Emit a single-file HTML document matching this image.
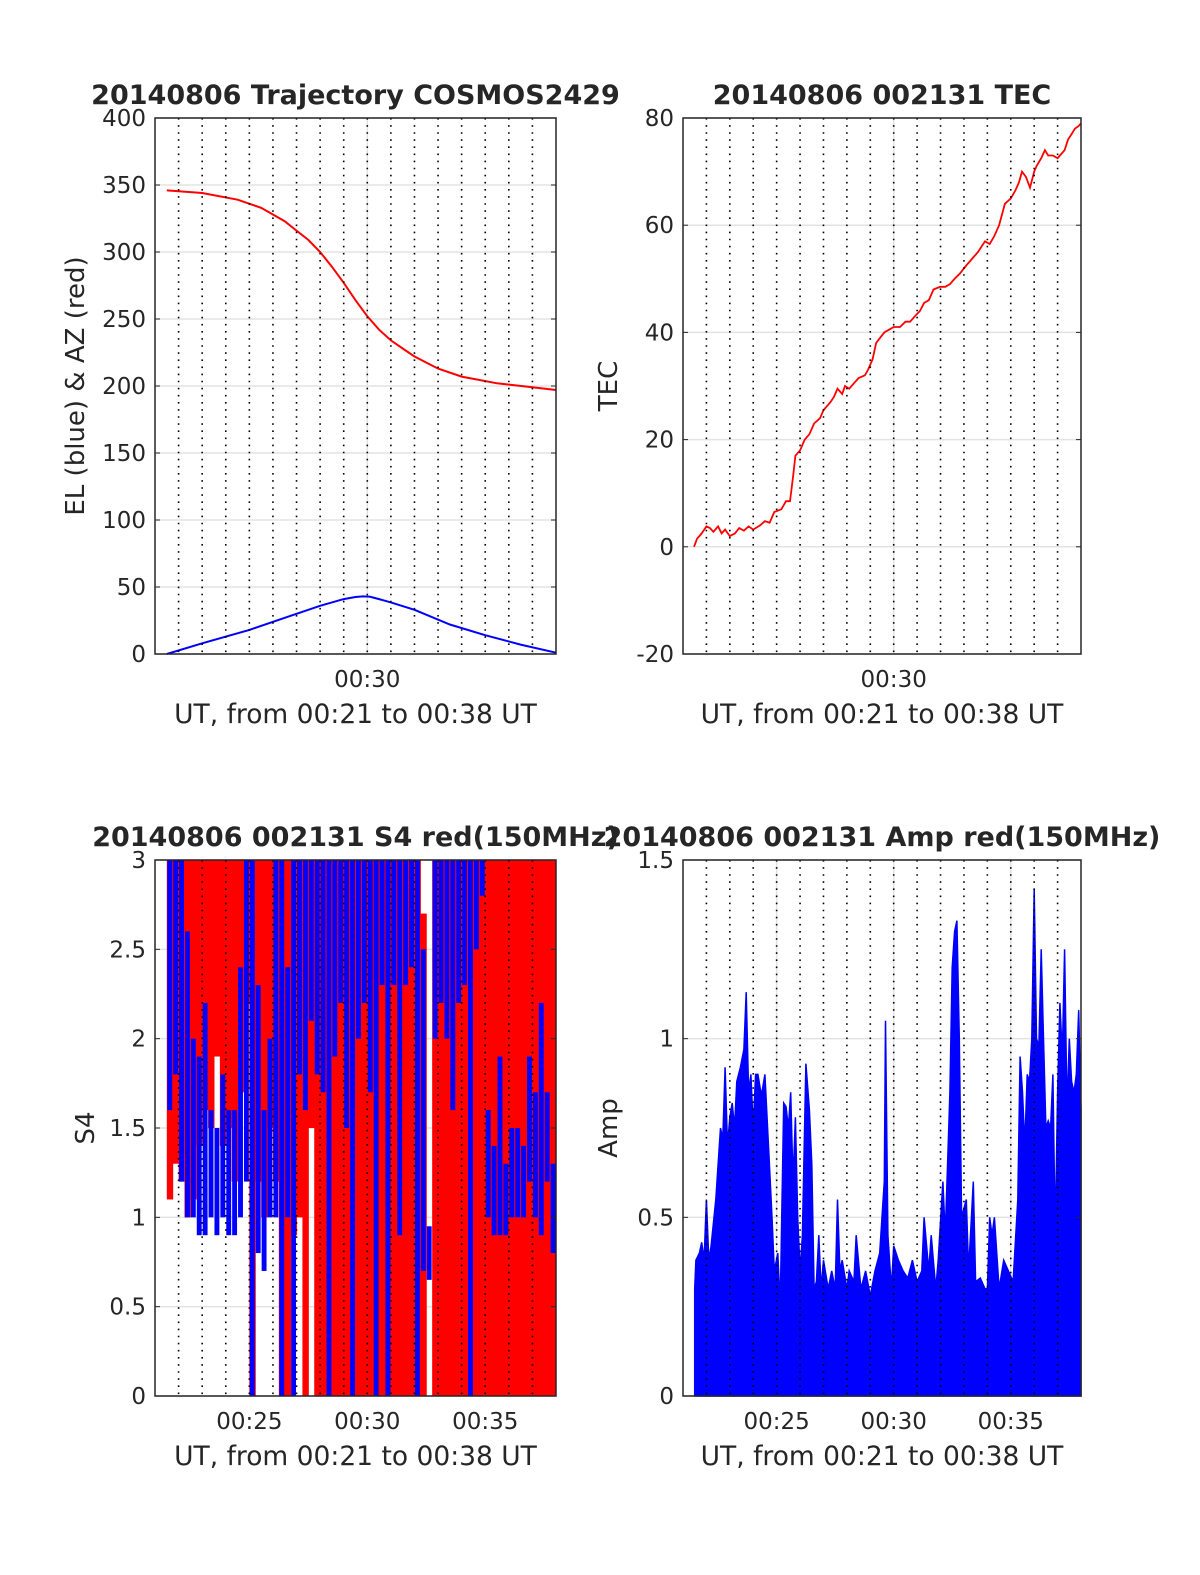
<!DOCTYPE html>
<html><head><meta charset="utf-8"><style>
html,body{margin:0;padding:0;background:#fff;overflow:hidden;width:1200px;height:1575px}
svg{display:block}
text{font-family:"DejaVu Sans","Liberation Sans",sans-serif;fill:#262626}
</style></head><body>
<svg id="fig" width="1200" height="1575" viewBox="0 0 1200 1575" xmlns="http://www.w3.org/2000/svg"></svg>
<script>
// ---- Trajectory ----
const elT=[21.5,23,25,27,28,29,29.5,29.8,30.1,30.5,31,32,33.5,35,36.5,38];
const elV=[0,8,18,30,36,41,42.5,43,42.8,41,38.5,33,22,14,7,1];
const azT=[21.5,23,24.5,25.5,26.5,27,27.5,28,28.5,29,29.5,30,30.5,31,31.5,32,33,34,35.5,37,38];
const azV=[346,344,339,333,323,316,309,300,289,277,264,252,242,234,228,222,213,207,202,199,197];
// ---- TEC ----
const tecT=[21.47,21.6,21.8,22.0,22.15,22.3,22.5,22.65,22.8,23.0,23.22,23.4,23.6,23.8,24.0,24.29,24.5,24.7,24.9,25.2,25.4,25.57,25.7,25.8,26.0,26.2,26.4,26.6,26.85,27.0,27.3,27.45,27.6,27.8,27.92,28.1,28.3,28.5,28.77,28.9,29.1,29.25,29.42,29.6,29.8,30.0,30.27,30.5,30.7,30.9,31.12,31.3,31.5,31.7,31.98,32.2,32.4,32.6,32.83,33.1,33.4,33.6,33.9,34.1,34.3,34.5,34.75,35.0,35.2,35.35,35.48,35.65,35.82,36.0,36.1,36.3,36.46,36.6,36.8,37.0,37.1,37.3,37.45,37.6,37.74,37.9,38];
const tecV=[0,1.5,2.5,3.8,3.5,2.8,3.8,2.5,3.2,2,2.5,3.5,3,3.8,3.2,4,4.8,4.5,6.5,7,8.5,8.5,13,17,18,20,21,23,24,25.5,27,28,29.5,28.5,30,29.5,30.5,31.5,32,33,35,38,39,40,40.5,41,41,42,42,43,44,45.5,46,48,48.5,48.5,49,50,51,52.5,54,55,57,56.5,58,60,64,65,66.5,68,70,69,67,70,71,72.5,74,73,73,72.5,73,74,76,77,78,78.5,79];
// ---- S4 (segments start at 21.5, step 0.25 min) ----
const s4Start=21.5, s4Step=0.25;
const redLo=[1.1,1.3,1.2,1.0,1.1,1.4,1.6,1.5,1.9,1.4,1.5,1.2,1.7,2.2,0,1.2,1.0,1.5,1.2,0,0,0.9,1.0,0,1.5,0,0,0,0,0,0,0,0,0,0,0,0,0,0,0,0,0,0,0,0,0,0,0,0,0,0,0,0,0,0,0,0,0,0,0,0,0,0,0,0,0];
const redHi=[3,3,3,3,3,3,3,3,3,3,3,3,3,3,3,3,3,3,3,3,3,3,3,3,3,3,3,3,3,3,3,3,3,3,3,3,3,3,3,3,3,3,3,2.7,0,3,3,3,3,3,3,3,3,3,3,3,3,3,3,3,3,3,3,3,3,3];
const blueLo=[1.6,1.8,1.2,1.0,1.0,0.9,0.9,1.0,0.9,1.0,0.9,0.9,1.0,1.2,0,0.8,0.7,1.0,1.0,0,1.0,0,1.8,1.6,2.1,1.8,1.7,0,1.9,2.2,1.5,0,2.0,2.2,1.7,0,2.3,0,2.3,0.9,2.3,2.4,0,0.7,0.65,2.0,2.2,2.0,1.6,2.2,2.3,0,2.5,2.8,1.0,0.9,0.9,0.9,1.0,1.0,1.0,1.2,1.0,0.9,1.2,0.8];
const blueHi=[3,3,3,2.6,2.0,1.9,2.2,1.6,1.5,1.8,1.6,1.6,2.4,3,3,2.3,1.6,2.0,3,3,2.4,3,3,3,3,3,3,3,3,3,3,3,3,3,3,3,3,3,3,3,3,3,3,2.5,0.95,3,3,3,3,3,3,3,3,3,1.6,1.4,1.9,1.3,1.5,1.5,1.4,1.9,1.7,2.2,1.7,1.3];
// ---- Amp ----
const ampT=[21.5,21.55,21.7,21.8,21.9,22.0,22.1,22.2,22.4,22.6,22.7,22.8,22.9,23.0,23.1,23.2,23.3,23.45,23.6,23.7,23.8,23.9,24.0,24.1,24.2,24.35,24.5,24.65,24.8,24.9,25.05,25.15,25.3,25.4,25.5,25.6,25.7,25.8,25.9,26.0,26.1,26.25,26.4,26.5,26.6,26.7,26.8,26.9,27.0,27.2,27.35,27.5,27.6,27.7,27.8,28.0,28.1,28.3,28.4,28.6,28.8,29.0,29.2,29.4,29.6,29.65,29.75,29.9,30.0,30.2,30.4,30.6,30.8,31.0,31.2,31.3,31.5,31.6,31.8,31.9,32.1,32.2,32.3,32.4,32.5,32.6,32.7,32.8,32.9,33.1,33.2,33.4,33.5,33.7,33.9,34.0,34.1,34.2,34.3,34.5,34.7,34.9,35.1,35.3,35.4,35.5,35.6,35.7,35.8,35.9,36.0,36.1,36.2,36.3,36.4,36.5,36.6,36.7,36.8,36.9,37.0,37.1,37.2,37.3,37.4,37.5,37.6,37.7,37.8,37.9,38.0];
const ampV=[0.3,0.38,0.4,0.43,0.38,0.55,0.38,0.42,0.55,0.75,0.72,0.92,0.7,0.78,0.82,0.75,0.88,0.92,0.97,1.13,0.85,0.9,0.75,0.9,0.9,0.84,0.9,0.7,0.5,0.35,0.4,0.25,0.82,0.81,0.75,0.85,0.6,0.78,0.5,0.35,0.45,0.93,0.8,0.65,0.3,0.32,0.45,0.3,0.38,0.3,0.35,0.3,0.55,0.35,0.38,0.3,0.35,0.32,0.45,0.3,0.35,0.28,0.35,0.4,0.6,1.05,0.45,0.3,0.42,0.38,0.35,0.33,0.38,0.32,0.35,0.5,0.35,0.45,0.3,0.38,0.6,0.45,0.65,0.85,1.2,1.3,1.33,1.0,0.5,0.55,0.35,0.6,0.32,0.33,0.3,0.3,0.5,0.45,0.5,0.3,0.38,0.35,0.32,0.55,0.95,0.85,0.7,0.9,0.88,1.0,1.42,1.0,0.98,1.25,1.0,0.75,0.77,0.75,0.9,0.45,0.85,1.1,0.95,1.25,0.8,1.0,0.88,0.85,0.9,1.08,0.8];

const NS="http://www.w3.org/2000/svg";
const svg=document.getElementById('fig');
function mk(tag,attrs,parent){const e=document.createElementNS(NS,tag);for(const k in attrs)e.setAttribute(k,attrs[k]);(parent||svg).appendChild(e);return e;}
function txt(s,x,y,attrs,parent){const e=mk('text',Object.assign({x:x,y:y},attrs),parent);e.textContent=s;return e;}

function panel(o){
  const g=mk('g',{});
  
  
  const X=t=>o.x0+(t-21)/17*(o.x1-o.x0);
  const Y=v=>o.y1-(v-o.ymin)/(o.ymax-o.ymin)*(o.y1-o.y0);
  o.yticks.forEach((v,i)=>{
    const l=mk('line',{x1:o.x0,x2:o.x1,y1:Y(v),y2:Y(v),stroke:'#e3e3e3','stroke-width':1.5},g);
    
    
  });
  o.xticks.forEach(t=>{
    const l=mk('line',{x1:X(t),x2:X(t),y1:o.y0,y2:o.y1,stroke:'#e3e3e3','stroke-width':1.5},g);
    
    
  });
  const dg=mk('g',{},g);
  
  
  o.draw(dg,X,Y);
  for(let m=22;m<=37;m++){
    const l=mk('line',{x1:X(m),x2:X(m),y1:o.y0,y2:o.y1,stroke:'#000','stroke-width':1.6,'stroke-dasharray':'1.6 5.5'},g);
    
    
  }
  const b=mk('rect',{x:o.x0,y:o.y0,width:o.x1-o.x0,height:o.y1-o.y0,fill:'none',stroke:'#262626','stroke-width':1.5},g);
  
  
  o.yticks.forEach((v,i)=>{
    mk('line',{x1:o.x0,x2:o.x0+5,y1:Y(v),y2:Y(v),stroke:'#262626'},g);
    mk('line',{x1:o.x1,x2:o.x1-5,y1:Y(v),y2:Y(v),stroke:'#262626'},g);
    const t=txt(o.ylabels[i],o.x0-9,Y(v)+8,{'font-size':23,'text-anchor':'end'},g);
    
    
  });
  o.xticks.forEach((tv,i)=>{
    const t=txt(o.xlabels[i],X(tv),o.y1+33,{'font-size':23,'text-anchor':'middle'},g);
    
    
  });
  const xt=txt('UT, from 00:21 to 00:38 UT',(o.x0+o.x1)/2,o.y1+69,{'font-size':26.5,'text-anchor':'middle'},g);
  
  
  const yt=txt(o.ytitle,0,0,{'font-size':26,'text-anchor':'middle',transform:`translate(${o.ylx},${(o.y0+o.y1)/2}) rotate(-90)`},g);
  
  
  const tt=txt(o.title,(o.x0+o.x1)/2,o.y0-14,{'font-size':27,'font-weight':'bold','text-anchor':'middle',fill:'#000'},g);
  
  
}
function poly(ts,vs,X,Y){return ts.map((t,i)=>(i?'L':'M')+X(t).toFixed(1)+' '+Y(vs[i]).toFixed(1)).join(' ');}

panel({name:'trajectory-panel',x0:155,x1:556,y0:118,y1:654,ymin:0,ymax:400,
  yticks:[0,50,100,150,200,250,300,350,400],ylabels:['0','50','100','150','200','250','300','350','400'],
  xticks:[30],xlabels:['00:30'],ytitle:'EL (blue) & AZ (red)',ylx:84,title:'20140806 Trajectory COSMOS2429',
  draw:(g,X,Y)=>{
    const a=mk('path',{d:poly(azT,azV,X,Y),fill:'none',stroke:'#f00','stroke-width':2},g);
    
    
    const e=mk('path',{d:poly(elT,elV,X,Y),fill:'none',stroke:'#00f','stroke-width':2},g);
    
    
  }});
panel({name:'tec-panel',x0:683,x1:1081,y0:118,y1:654,ymin:-20,ymax:80,
  yticks:[-20,0,20,40,60,80],ylabels:['-20','0','20','40','60','80'],
  xticks:[30],xlabels:['00:30'],ytitle:'TEC',ylx:617,title:'20140806 002131 TEC',
  draw:(g,X,Y)=>{
    const a=mk('path',{d:poly(tecT,tecV,X,Y),fill:'none',stroke:'#f00','stroke-width':1.8},g);
    
    
  }});
panel({name:'s4-panel',x0:155,x1:556,y0:860,y1:1396,ymin:0,ymax:3,
  yticks:[0,0.5,1,1.5,2,2.5,3],ylabels:['0','0.5','1','1.5','2','2.5','3'],
  xticks:[25,30,35],xlabels:['00:25','00:30','00:35'],ytitle:'S4',ylx:94,title:'20140806 002131 S4 red(150MHz)',
  draw:(g,X,Y)=>{
    redLo.forEach((lo,i)=>{
      const hi=redHi[i]; if(hi<=lo) return;
      const t=s4Start+i*s4Step;
      const r=mk('rect',{x:X(t),y:Y(hi),width:X(t+s4Step)-X(t)+0.5,height:Y(lo)-Y(hi),fill:'#f00'},g);
      
      
    });
    blueLo.forEach((lo,i)=>{
      const hi=blueHi[i]; if(hi<=lo) return;
      const t=s4Start+i*s4Step;
      const r=mk('rect',{x:X(t)+0.5,y:Y(hi),width:X(t+s4Step)-X(t)-1,height:Y(lo)-Y(hi),fill:'#00f'},g);
      
      
    });
  }});
panel({name:'amp-panel',x0:683,x1:1081,y0:860,y1:1396,ymin:0,ymax:1.5,
  yticks:[0,0.5,1,1.5],ylabels:['0','0.5','1','1.5'],
  xticks:[25,30,35],xlabels:['00:25','00:30','00:35'],ytitle:'Amp',ylx:617,title:'20140806 002131 Amp red(150MHz)',
  draw:(g,X,Y)=>{
    const d=poly(ampT,ampV,X,Y)+` L${X(ampT[ampT.length-1])} ${Y(0)} L${X(ampT[0])} ${Y(0)} Z`;
    const a=mk('path',{d:d,fill:'#00f',stroke:'#00f','stroke-width':1.5},g);
    
    
  }});
</script>
</body></html>
